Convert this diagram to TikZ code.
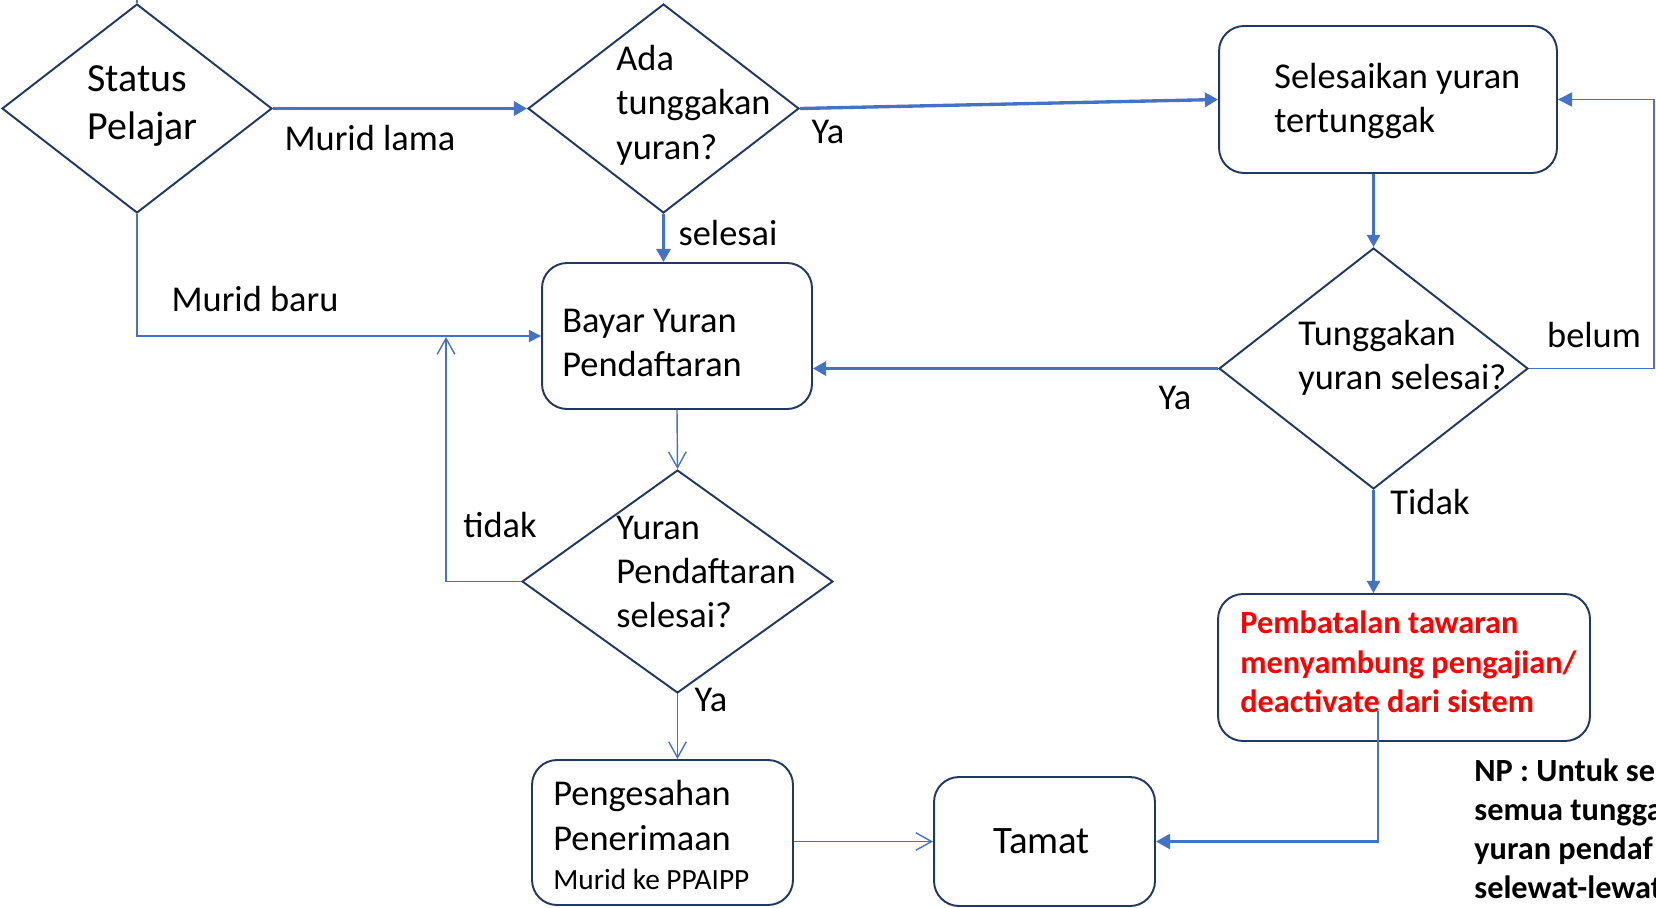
\documentclass[tikz,border=0pt]{standalone}
\usepackage{fontspec}
\setmainfont{Carlito}
\usetikzlibrary{arrows.meta,shapes.geometric}
\definecolor{edgeblue}{HTML}{4472C4}
\definecolor{navy}{HTML}{203864}

\begin{document}
\begin{tikzpicture}[x=0.02cm,y=-0.02cm,
  thick line/.style={draw=edgeblue,line width=1.9pt,-{Triangle[length=7.5pt,width=8pt]}},
  mid line/.style={draw=edgeblue,line width=1.4pt,-{Triangle[length=7pt,width=7.5pt]}},
  thin line/.style={draw=edgeblue,line width=0.8pt,-{Straight Barb[length=9pt,width=10pt]}},
  thin fill/.style={draw=edgeblue,line width=0.8pt,-{Triangle[length=7pt,width=7pt]}},
  decision/.style={diamond,draw=navy,line width=1.1pt,inner sep=0pt},
  proc box/.style={rectangle,rounded corners=0.5cm,draw=navy,line width=1.1pt,inner sep=0pt},
  txt/.style={inner sep=0pt,align=left,anchor=west,font=\fontsize{20.7}{25.3}\selectfont},
  lbl/.style={inner sep=0pt,font=\fontsize{20.7}{25.3}\selectfont}]

  \useasboundingbox (0,0) rectangle (1656,907);

  % shapes
  \node[decision,minimum width=5.4cm,minimum height=4.18cm] (status) at (137,108.5) {};
  \node[decision,minimum width=5.42cm,minimum height=4.18cm] (ada) at (663.5,108.5) {};
  \node[decision,minimum width=6.18cm,minimum height=4.82cm] (tung) at (1373.5,368.5) {};
  \node[decision,minimum width=6.22cm,minimum height=4.46cm] (yuran) at (677.5,581.5) {};
  \node[proc box,minimum width=5.4cm,minimum height=2.92cm] (bayar) at (677,336) {};
  \node[proc box,minimum width=6.76cm,minimum height=2.94cm] (sel) at (1388,99.5) {};
  \node[proc box,minimum width=5.22cm,minimum height=2.9cm] (peng) at (662.5,832.5) {};
  \node[proc box,minimum width=4.42cm,minimum height=2.58cm,
        font=\fontsize{22.1}{27}\selectfont] (tamat) at (1044.5,841.5) {Tamat\hspace*{0.12cm}};
  \node[proc box,minimum width=7.44cm,minimum height=2.94cm] (pemb) at (1404,667.5) {};

  % texts in the shapes
  \node[txt,font=\fontsize{22.7}{27.7}\selectfont] (t-status) at (87,106) {Status\\Pelajar};
  \node[txt] (t-ada) at (616,105) {Ada\\tunggakan\\yuran?};
  \node[txt] (t-sel) at (1274,101) {Selesaikan yuran\\tertunggak};
  \node[txt] (t-bayar) at (562,343) {Bayar Yuran\\Pendaftaran};
  \node[txt] (t-tung) at (1298,358) {Tunggakan\\yuran selesai?};
  \node[txt] (t-yuran) at (616,572) {Yuran\\Pendaftaran\\selesai?};
  \node[txt] (t-peng) at (553,835) {Pengesahan\\Penerimaan\\[-3pt]{\fontsize{16.7}{20.4}\selectfont Murid ke PPAIPP}};
  \node[txt,text=red,font=\fontsize{18.4}{22.4}\selectfont\bfseries] (t-pemb) at (1240,662)
    {Pembatalan tawaran\\menyambung pengajian/\\deactivate dari sistem};
  \node[txt,font=\fontsize{18.4}{22.1}\selectfont\bfseries] (np) at (1474,829)
    {NP : Untuk se\\semua tungga\\yuran pendaf\\selewat-lewat};

  % connectors
  \coordinate (topIn) at (137,0);
  \coordinate (tidakEnd) at (446,337);
  \coordinate (belumTurn) at (1654,368.5);
  \coordinate (pembOut) at (1378,711);

  \draw[draw=edgeblue,line width=0.8pt] (topIn) -- (status.north);
  \draw[thick line] (status.east) -- (ada.west);
  \draw[thick line] (ada.east) -- (sel.west);
  \draw[thick line] (ada.south) -- (ada.south |- bayar.north);
  \draw[thin fill] (status.south) |- (bayar.west);
  \draw[thin line] (bayar.south) -- (yuran.north);
  \draw[thin line] (yuran.west) -| (tidakEnd);
  \draw[thin line] (yuran.south) -- (yuran.south |- peng.north);
  \draw[thin line] (peng.east |- tamat.west) -- (tamat.west);
  \draw[mid line] (tung.north |- sel.south) -- (tung.north);
  \draw[thick line] (tung.west) -- (tung.west -| bayar.east);
  \draw[mid line] (tung.south) -- (tung.south |- pemb.north);
  \draw[draw=edgeblue,line width=0.8pt,-{Triangle[length=8pt,width=8pt]}]
    (tung.east) -- (belumTurn) |- (sel.east);
  \draw[mid line,line width=1.6pt,-{Triangle[length=8pt,width=8.5pt]}] (pembOut) |- (tamat.east);

  % labels
  \node[lbl] (l-lama) at (370,138) {Murid lama};
  \node[lbl] (l-baru) at (255,299) {Murid baru};
  \node[lbl] (l-selesai) at (728,233) {selesai};
  \node[lbl] (l-ya1) at (828,132) {Ya};
  \node[lbl] (l-ya2) at (1175,398) {Ya};
  \node[lbl] (l-ya3) at (711,700) {Ya};
  \node[lbl] (l-belum) at (1594,335) {belum};
  \node[lbl] (l-tidak1) at (1430,502) {Tidak};
  \node[lbl] (l-tidak2) at (500,525) {tidak};

\end{tikzpicture}
\end{document}
